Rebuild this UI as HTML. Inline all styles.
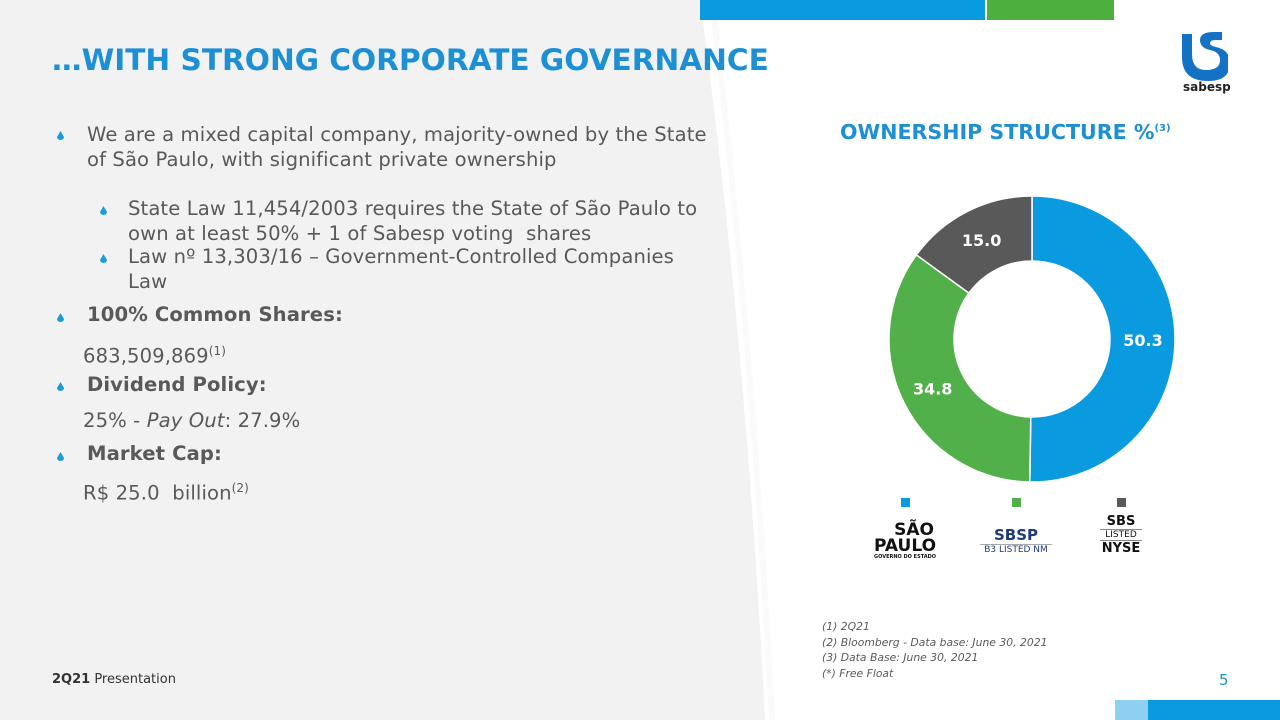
<!DOCTYPE html>
<html><head><meta charset="utf-8">
<style>
body{margin:0;width:1280px;height:720px;overflow:hidden;background:#fff;font-family:"DejaVu Sans","Liberation Sans",sans-serif;color:#595959;position:relative}
.abs{position:absolute;white-space:nowrap}
.drop{position:absolute;width:7px;height:9px}
.t{font-size:19.6px;line-height:25px;letter-spacing:0.1px}
</style></head><body>
<svg class="abs" style="left:0;top:0" width="1280" height="720">
<path d="M0,0 L700,0 Q745,330 765,720 L0,720 Z" fill="#f2f2f2"/>
<path d="M712,0 Q752,330 772,720" stroke="#fafafa" stroke-width="6" fill="none"/>
<rect x="700" y="0" width="285" height="20" fill="#0a9ae0"/>
<rect x="987" y="0" width="127" height="20" fill="#4caf3e"/>
<rect x="1115" y="700" width="33" height="20" fill="#8fcff0"/>
<rect x="1148" y="700" width="132" height="20" fill="#0a9ae0"/>
</svg>
<div class="abs" style="left:52px;top:43px;font-size:29.6px;font-weight:bold;color:#1d8fd5">…WITH STRONG CORPORATE GOVERNANCE</div>
<svg class="abs" style="left:1180px;top:32px" width="48" height="50">
<path d="M2,2 h10 v20 q0,16 14,16 q14,0 14,-10 q0,-8 -10,-10 q-10,-2 -10,-10 q0,-8 14,-8 h8 v8 h-6 q-6,0 -6,3 q0,3 6,4 q14,3 14,16 q0,18 -22,18 q-26,0 -26,-24 z" fill="#1472c4"/>
</svg>
<div class="abs" style="left:1183px;top:80px;font-size:12px;font-weight:bold;color:#222">sabesp</div>

<svg class="drop" style="left:57px;top:131px" viewBox="0 0 7 9"><path d="M3.5,0 L7,6 A3.5,3 0 0 1 0,6 Z" fill="#1d9ad8"/></svg>
<div class="abs t" style="left:87px;top:122px">We are a mixed capital company, majority-owned by the State<br>of São Paulo, with significant private ownership</div>
<svg class="drop" style="left:100px;top:206px" viewBox="0 0 7 9"><path d="M3.5,0 L7,6 A3.5,3 0 0 1 0,6 Z" fill="#1d9ad8"/></svg>
<div class="abs t" style="left:128px;top:196px">State Law 11,454/2003 requires the State of São Paulo to<br>own at least 50% + 1 of Sabesp voting&nbsp; shares</div>
<svg class="drop" style="left:100px;top:254px" viewBox="0 0 7 9"><path d="M3.5,0 L7,6 A3.5,3 0 0 1 0,6 Z" fill="#1d9ad8"/></svg>
<div class="abs t" style="left:128px;top:244px">Law nº 13,303/16 – Government-Controlled Companies<br>Law</div>
<svg class="drop" style="left:57px;top:313px" viewBox="0 0 7 9"><path d="M3.5,0 L7,6 A3.5,3 0 0 1 0,6 Z" fill="#1d9ad8"/></svg>
<div class="abs t" style="left:87px;top:302px;font-weight:bold">100% Common Shares:</div>
<div class="abs t" style="left:83px;top:339px">683,509,869<sup style="font-size:12px">(1)</sup></div>
<svg class="drop" style="left:57px;top:382px" viewBox="0 0 7 9"><path d="M3.5,0 L7,6 A3.5,3 0 0 1 0,6 Z" fill="#1d9ad8"/></svg>
<div class="abs t" style="left:87px;top:372px;font-weight:bold">Dividend Policy:</div>
<div class="abs t" style="left:83px;top:408px">25% - <i>Pay Out</i>: 27.9%</div>
<svg class="drop" style="left:57px;top:452px" viewBox="0 0 7 9"><path d="M3.5,0 L7,6 A3.5,3 0 0 1 0,6 Z" fill="#1d9ad8"/></svg>
<div class="abs t" style="left:87px;top:441px;font-weight:bold">Market Cap:</div>
<div class="abs t" style="left:83px;top:476px">R$ 25.0&nbsp; billion<sup style="font-size:12px">(2)</sup></div>

<div class="abs" style="left:840px;top:120px;font-size:20.6px;font-weight:bold;color:#1d8fd5">OWNERSHIP STRUCTURE %<sup style="font-size:10px">(3)</sup></div>
<svg id="donut" class="abs" style="left:0;top:0" width="1280" height="720"></svg>

<div class="abs" style="left:874px;top:522px;font-size:17px;font-weight:bold;color:#111;line-height:16px;text-align:right;width:60px">SÃO<br>PAULO<div style="font-size:5px;line-height:7px">GOVERNO DO ESTADO</div></div>
<div class="abs" style="left:980px;top:526px;width:72px;text-align:center;color:#1f3a7a"><div style="font-size:15px;font-weight:bold;border-bottom:1px solid #aaa">SBSP</div><div style="font-size:9px">B3 LISTED NM</div></div>
<div class="abs" style="left:1100px;top:514px;width:42px;text-align:center;color:#111"><div style="font-size:13px;font-weight:bold">SBS</div><div style="font-size:9px;border-top:1px solid #888;border-bottom:1px solid #888">LISTED</div><div style="font-size:13px;font-weight:bold">NYSE</div></div>

<div class="abs" style="left:822px;top:619px;font-size:10.8px;line-height:15.5px;font-style:italic;color:#595959">(1) 2Q21<br>(2) Bloomberg - Data base: June 30, 2021<br>(3) Data Base: June 30, 2021<br>(*) Free Float</div>
<div class="abs" style="left:52px;top:672px;font-size:13px;color:#333"><b>2Q21</b> Presentation</div>
<div class="abs" style="left:1219px;top:671px;font-size:15px;color:#1d8fd5">5</div>

<script>
const categories = ["São Paulo State", "B3 Free Float", "NYSE Free Float"];
const values = [50.3, 34.8, 15.0];
const labels = ["50.3", "34.8", "15.0"];
const colors = ["#0a9ae0", "#52b04a", "#595959"];
const svg = document.getElementById('donut');
const NS = "http://www.w3.org/2000/svg";
const cx = 1032, cy = 339, R = 143, r = 78;
const total = values.reduce((a, b) => a + b, 0);
function pt(rad, a){ return [cx + rad*Math.sin(a), cy - rad*Math.cos(a)]; }
let start = 0;
values.forEach((v, i) => {
  const end = start + v/total*2*Math.PI;
  const large = end - start > Math.PI ? 1 : 0;
  const [x1,y1] = pt(R,start), [x2,y2] = pt(R,end), [x3,y3] = pt(r,end), [x4,y4] = pt(r,start);
  const p = document.createElementNS(NS, 'path');
  p.setAttribute('d', `M${x1},${y1} A${R},${R} 0 ${large} 1 ${x2},${y2} L${x3},${y3} A${r},${r} 0 ${large} 0 ${x4},${y4} Z`);
  p.setAttribute('fill', colors[i]);
  p.setAttribute('stroke', '#fff');
  p.setAttribute('stroke-width', '1.5');
  
  
  svg.appendChild(p);
  const mid = (start + end)/2;
  const [lx, ly] = pt(111, mid);
  const t = document.createElementNS(NS, 'text');
  t.setAttribute('x', lx); t.setAttribute('y', ly + 6);
  t.setAttribute('text-anchor', 'middle');
  t.setAttribute('font-size', '16'); t.setAttribute('font-weight', 'bold');
  t.setAttribute('font-family', 'DejaVu Sans, sans-serif');
  t.setAttribute('fill', '#fff');
  t.textContent = labels[i];
  
  
  svg.appendChild(t);
  const lxs = [905, 1016, 1121];
  const m = document.createElementNS(NS, 'rect');
  m.setAttribute('x', lxs[i] - 4); m.setAttribute('y', 498);
  m.setAttribute('width', 9); m.setAttribute('height', 9);
  m.setAttribute('fill', colors[i]);
  
  
  svg.appendChild(m);
  start = end;
});
</script>
</body></html>
